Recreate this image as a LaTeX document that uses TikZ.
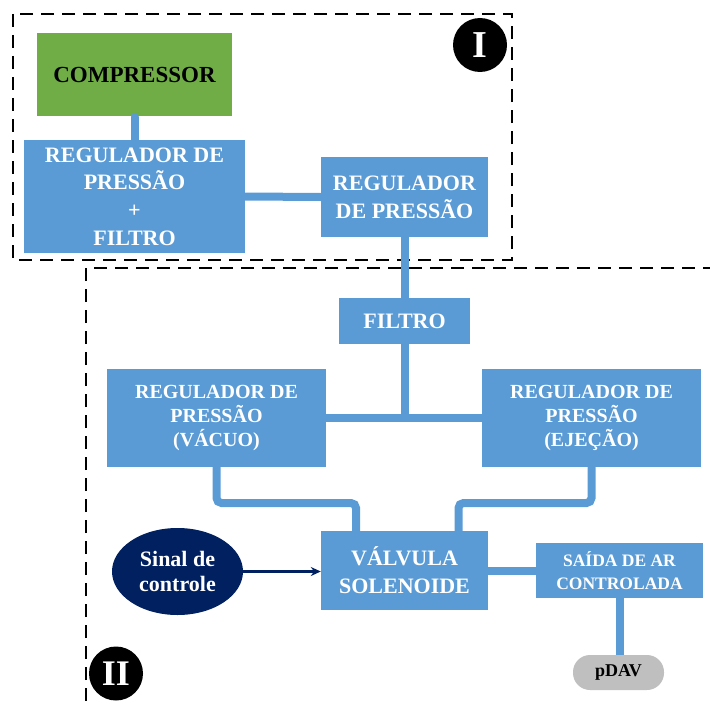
\documentclass[tikz,border=0pt]{standalone}
\usepackage{fontspec}
\setmainfont{Liberation Serif}
\usetikzlibrary{arrows.meta,shapes.geometric}
\definecolor{pipeblue}{HTML}{5B9BD5}
\definecolor{compgreen}{HTML}{70AD47}
\definecolor{signavy}{HTML}{002060}
\definecolor{capgray}{HTML}{BFBFBF}
\newcommand{\fs}[2]{\fontsize{#1}{#2}\selectfont\bfseries}
\begin{document}
\begin{tikzpicture}[x=1pt,y=-1pt,
  bluebox/.style={fill=pipeblue, text=white, align=center, inner sep=0pt},
  pipe/.style={draw=pipeblue, line width=8pt, rounded corners=5pt},
  zone/.style={draw=black, line width=2.5pt, dash pattern=on 13pt off 8pt},
  badge/.style={circle, fill=black, text=white, inner sep=0pt, minimum size=54pt},
  sig/.style={draw=signavy, line width=2.5pt, -{Stealth[length=10pt,width=9pt]}}
]
\useasboundingbox (0,0) rectangle (710,701);

% dashed zone outlines
\draw[zone] (13,14) rectangle (512,260);
\draw[zone] (86,701) -- (86,268) -- (710,268);

% blocks
\node[fill=compgreen, minimum width=195pt, minimum height=83pt, inner sep=0pt,
      font=\fs{23}{28}] (comp) at (134.5,74.5) {COMPRESSOR};
\node[bluebox, minimum width=221pt, minimum height=113pt, font=\fs{22}{27.7}]
      (rf) at (134.5,196.5) {REGULADOR DE\\PRESSÃO\\+\\FILTRO};
\node[bluebox, minimum width=167pt, minimum height=80pt, font=\fs{22}{28}]
      (rp) at (404.5,197) {REGULADOR\\DE PRESSÃO};
\node[bluebox, minimum width=131pt, minimum height=46pt, font=\fs{22}{27}]
      (filtro) at (404.5,321) {FILTRO};
\node[bluebox, minimum width=219pt, minimum height=98pt, font=\fs{20}{24.3}]
      (vac) at (216.5,418) {REGULADOR DE\\PRESSÃO\\(VÁCUO)};
\node[bluebox, minimum width=219pt, minimum height=98pt, font=\fs{20}{24.3}]
      (ej) at (591.5,418) {REGULADOR DE\\PRESSÃO\\(EJEÇÃO)};
\node[bluebox, minimum width=167pt, minimum height=79pt, font=\fs{22}{27.7}]
      (valve) at (404.5,570.5) {VÁLVULA\\SOLENOIDE};
\node[bluebox, minimum width=167pt, minimum height=55pt, font=\fs{17.5}{22.3}]
      (saida) at (619.5,570.5) {SAÍDA DE AR\\CONTROLADA};
\node[fill=capgray, rounded corners=17pt, minimum width=91pt, minimum height=35pt,
      inner sep=0pt, font=\fs{18}{22}] (pdav) at (618.5,672.5) {pDAV};
\node[ellipse, fill=signavy, text=white, align=center, inner sep=0pt,
      minimum width=131pt, minimum height=87pt, font=\fs{22}{25.7}]
      (sinal) at (177.5,571.5) {Sinal de\\controle};

% zone badges
\node[badge, font=\fs{38}{40}] (zI) at (480,45) {I};
\node[badge, font=\fs{36}{40}] (zII) at (116,673.5) {II};

% air lines
\draw[pipe, line cap=round] ([yshift=-1pt]comp.south) -- (rf.north);
\draw[pipe] (rf.east) -- (rp.west);
\draw[pipe] (rp.south) -- (filtro.north);
\draw[pipe] (filtro.south) -- (filtro.south |- vac.east);
\draw[pipe] (vac.east) -- (ej.west);
\coordinate (vj) at (356,503);
\coordinate (ejn) at (458.5,503);
\draw[pipe] (vac.south) |- (vj) -- (vj |- valve.north);
\draw[pipe] (ej.south) |- (ejn) -- (ejn |- valve.north);
\draw[pipe] (valve.east) -- (saida.west);
\draw[pipe] (saida.south) -- (saida.south |- pdav.north);

% control signal
\draw[sig] (sinal.east) -- (sinal.east -| valve.west);
\end{tikzpicture}
\end{document}
